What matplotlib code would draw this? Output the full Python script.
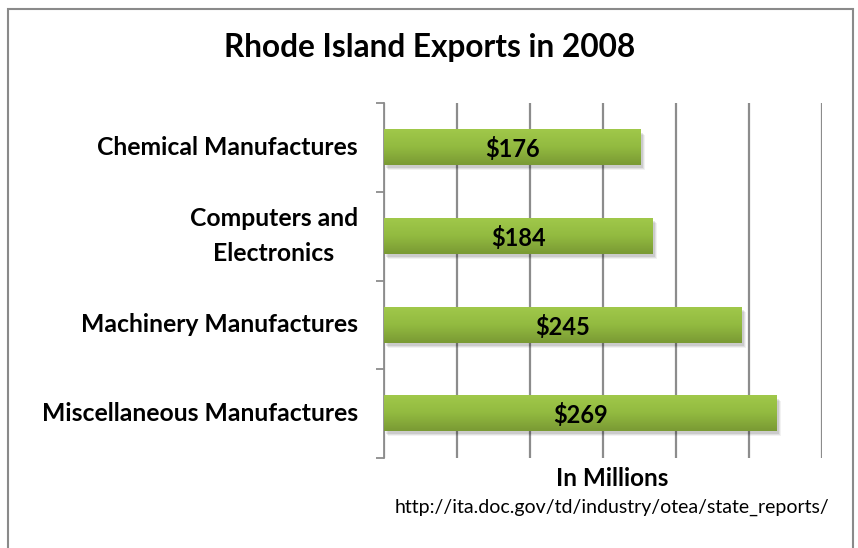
import matplotlib
matplotlib.use("Agg")
import matplotlib.pyplot as plt
import numpy as np
from matplotlib.patches import Rectangle
from matplotlib.colors import LinearSegmentedColormap
import matplotlib.transforms as mtransforms

categories = ["Chemical Manufactures", "Computers and\nElectronics",
              "Machinery Manufactures", "Miscellaneous Manufactures"]
values = [176, 184, 245, 269]
labels = ["$176", "$184", "$245", "$269"]
title = "Rhode Island Exports in 2008"
xlabel = "In Millions"
source = "http://ita.doc.gov/td/industry/otea/state_reports/"

plt.rcParams['font.family'] = ['Lato', 'DejaVu Sans']

W, H = 858, 548
fig = plt.figure(figsize=(W / 100, H / 100), dpi=100)
ax_w = 822 - 384
ax = fig.add_axes([384 / W, 1 - 458 / H, ax_w / W, (458 - 103) / H])

n = len(categories)
ypos = np.arange(n)
bar_h = 0.4

cmap = LinearSegmentedColormap.from_list("g", ["#a0c84a", "#92ba40", "#7a9a34"])
grad = np.linspace(0, 1, 64).reshape(-1, 1)

for y, v, lab in zip(ypos, values, labels):
    for k, a in enumerate([0.05, 0.07, 0.09]):
        off = 3 - k
        sh = Rectangle((0, y - bar_h / 2), v, bar_h, facecolor="black", alpha=a,
                       edgecolor="none", zorder=2,
                       transform=ax.transData + mtransforms.ScaledTranslation(
                           (off + 1) / 100, -(off + 2) / 100, fig.dpi_scale_trans))
        ax.add_patch(sh)
    ax.imshow(grad, cmap=cmap, aspect="auto", zorder=3,
              extent=(0, v, y + bar_h / 2, y - bar_h / 2), interpolation="bilinear")
    ax.text(v / 2, y + 0.02, lab, ha="center", va="center", fontsize=17,
            fontweight="bold", color="black", zorder=4)

ax.set_xlim(0, 300)
ax.set_ylim(n - 0.5, -0.5)
ax.set_xticks(np.arange(0, 301, 50))
ax.xaxis.grid(True, color="#8c8c8c", linewidth=1.6, zorder=0)
ax.set_axisbelow(True)
ax.tick_params(axis="x", length=0, labelbottom=False)
ax.set_yticks(np.arange(-0.5, n, 1.0))
ax.set_yticklabels([])
ax.tick_params(axis="y", length=6, width=1.3, color="#8c8c8c", direction="out")
for s in ["top", "right", "bottom"]:
    ax.spines[s].set_visible(False)
ax.spines["left"].set_color("#8c8c8c")
ax.spines["left"].set_linewidth(1.3)

for y, c in zip(ypos, categories):
    ax.text(-26 / ax_w, y, c, transform=ax.get_yaxis_transform(),
            ha="right", va="center", multialignment="center", fontsize=17.8,
            fontweight="bold", color="black", linespacing=1.6)

fig.text(430 / W, 1 - 48 / H, title, ha="center", va="center", fontsize=22.8,
         fontweight="bold", color="black")
fig.text(612 / W, 1 - 479 / H, xlabel, ha="center", va="center", fontsize=17.5,
         fontweight="bold", color="black")
fig.text(612 / W, 1 - 507 / H, source, ha="center", va="center", fontsize=14,
         color="black")

border = Rectangle((7.5 / W, -0.05), (853 - 7.5) / W, 1 - 8.5 / H + 0.05,
                   transform=fig.transFigure, fill=False, edgecolor="#8a8a8a",
                   linewidth=1.5)
fig.patches.append(border)

fig.savefig("out.png", dpi=100)
